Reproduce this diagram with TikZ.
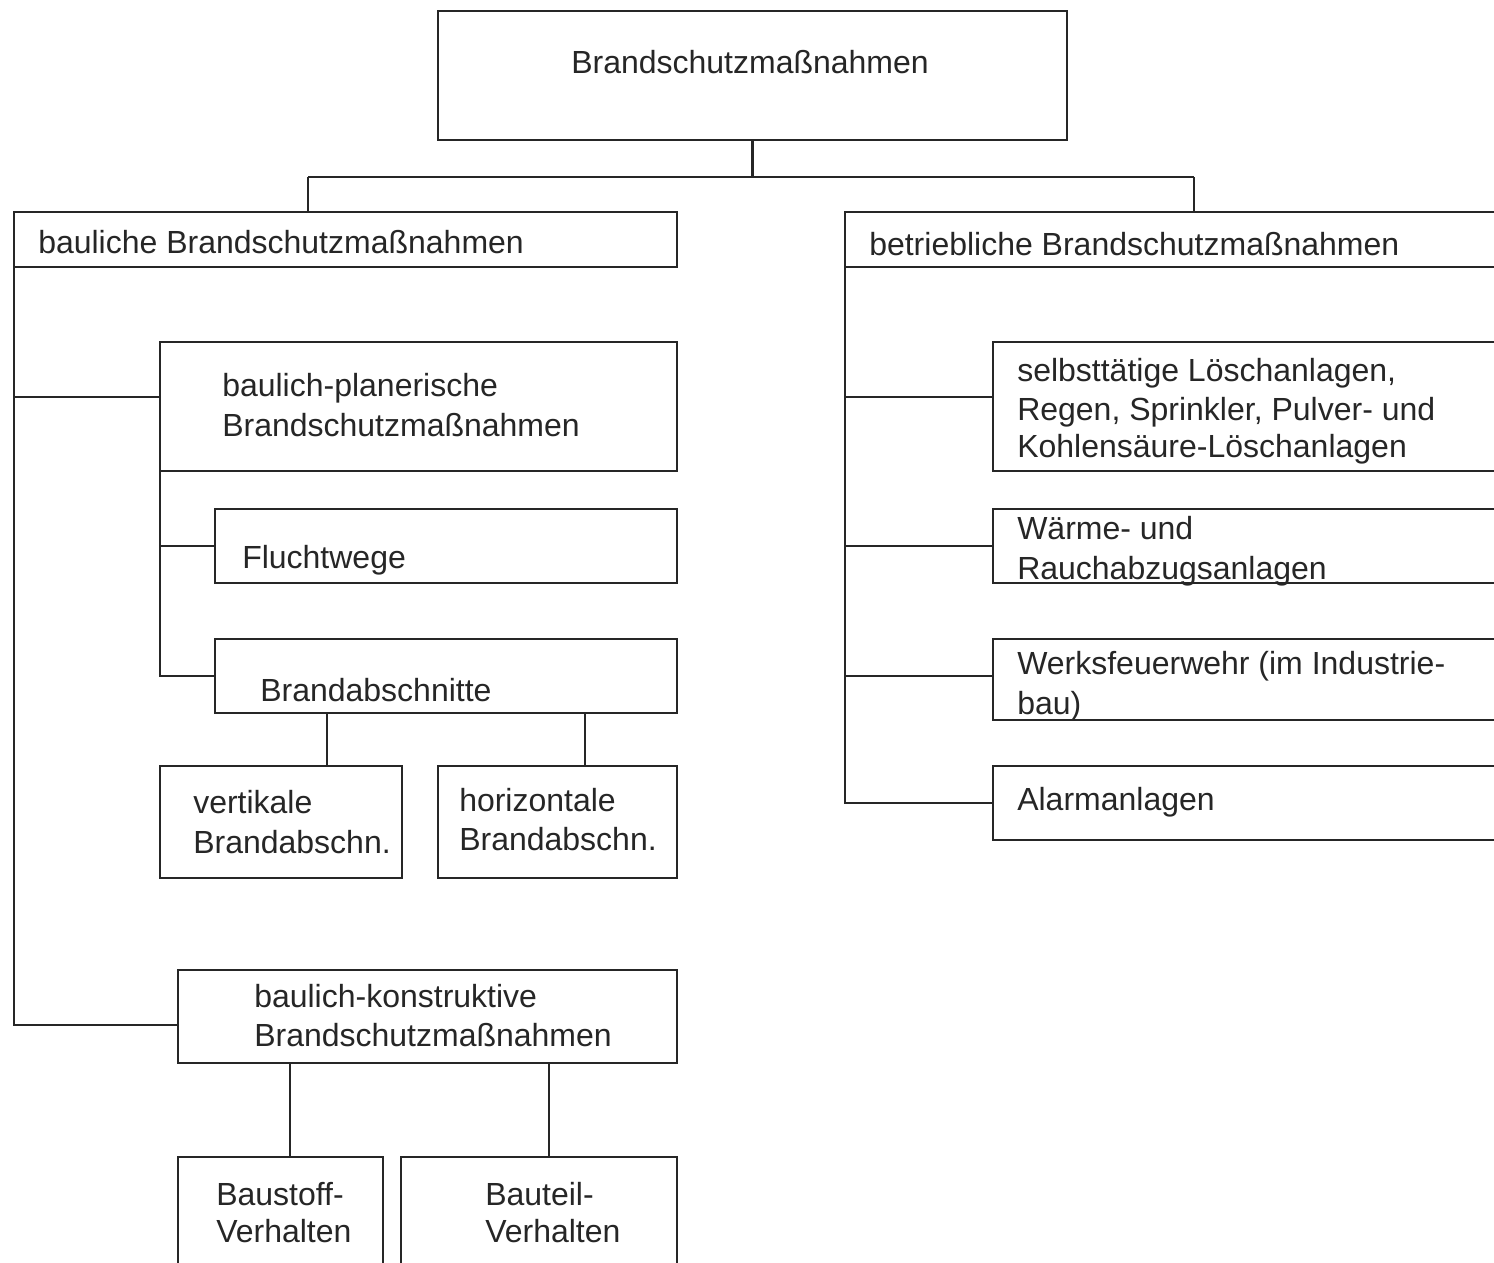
\documentclass[tikz,border=0pt]{standalone}
\usepackage{fontspec}
\setmainfont{Liberation Sans}
\usetikzlibrary{calc}
\begin{document}
\begin{tikzpicture}[x=1pt,y=-1pt,line width=2.5pt,
  box/.style={draw=black!85,rectangle,inner sep=0pt,outer sep=0pt,anchor=north west},
  lbl/.style={anchor=base west,inner sep=0pt,font=\fontsize{32}{40}\selectfont,text=black!85},
  link/.style={draw=black!85}]
\clip (0,0) rectangle (1494,1262);
% boxes
\node[box,minimum width=629pt,minimum height=129pt] (top) at (438,11) {};
\node[box,minimum width=663pt,minimum height=55pt] (bau) at (14,212) {};
\node[box,minimum width=680pt,minimum height=55pt] (betr) at (845,212) {};
\node[box,minimum width=517pt,minimum height=129pt] (bp) at (160,342) {};
\node[box,minimum width=462pt,minimum height=74pt] (flucht) at (215,509) {};
\node[box,minimum width=462pt,minimum height=74pt] (ba) at (215,639) {};
\node[box,minimum width=242pt,minimum height=112pt] (vk) at (160,766) {};
\node[box,minimum width=239pt,minimum height=112pt] (hz) at (438,766) {};
\node[box,minimum width=499pt,minimum height=93pt] (bk) at (178,970) {};
\node[box,minimum width=205pt,minimum height=140pt] (bs) at (178,1157) {};
\node[box,minimum width=276pt,minimum height=140pt] (bt) at (401,1157) {};
\node[box,minimum width=530pt,minimum height=129pt] (sl) at (993,342) {};
\node[box,minimum width=530pt,minimum height=74pt] (wr) at (993,509) {};
\node[box,minimum width=530pt,minimum height=81pt] (wf) at (993,639) {};
\node[box,minimum width=530pt,minimum height=74pt] (al) at (993,766) {};
% texts
\node[lbl] (t1) at (570,73) {Brandschutzmaßnahmen};
\node[lbl] (t2) at (37,253) {bauliche Brandschutzmaßnahmen};
\node[lbl] (t3) at (868,255) {betriebliche Brandschutzmaßnahmen};
\node[lbl] (t4) at (221,396) {baulich-planerische};
\node[lbl] (t5) at (221,436) {Brandschutzmaßnahmen};
\node[lbl] (t6) at (241,568) {Fluchtwege};
\node[lbl] (t7) at (259,701) {Brandabschnitte};
\node[lbl] (t8) at (192,813) {vertikale};
\node[lbl] (t9) at (192,853) {Brandabschn.};
\node[lbl] (t10) at (458,811) {horizontale};
\node[lbl] (t11) at (458,850) {Brandabschn.};
\node[lbl] (t12) at (253,1007) {baulich-konstruktive};
\node[lbl] (t13) at (253,1046) {Brandschutzmaßnahmen};
\node[lbl] (t14) at (215,1205) {Baustoff-};
\node[lbl] (t15) at (215,1242) {Verhalten};
\node[lbl] (t16) at (484,1205) {Bauteil-};
\node[lbl] (t17) at (484,1242) {Verhalten};
\node[lbl] (t18) at (1016,381) {selbsttätige Löschanlagen,};
\node[lbl] (t19) at (1016,420) {Regen, Sprinkler, Pulver- und};
\node[lbl] (t20) at (1016,457) {Kohlensäure-Löschanlagen};
\node[lbl] (t21) at (1016,539) {Wärme- und};
\node[lbl] (t22) at (1016,579) {Rauchabzugsanlagen};
\node[lbl] (t23) at (1016,674) {Werksfeuerwehr (im Industrie-};
\node[lbl] (t24) at (1016,714) {bau)};
\node[lbl] (t25) at (1016,810) {Alarmanlagen};
% connectors
\coordinate (jl) at (308,177);
\coordinate (jr) at (1194,177);
\draw[link] (top.south) -- (top.south |- jl);
\draw[link] (jl) -- (jr);
\draw[link] (jl) -- (jl |- bau.north);
\draw[link] (jr) -- (jr |- betr.north);
% left spine
\coordinate (lb1) at ($(bp.north west)+(0,55)$);
\coordinate (lb2) at ($(bk.north west)+(0,55)$);
\draw[link] (bau.south west) |- (lb2);
\draw[link] (bau.south west |- lb1) -- (lb1);
% inner spine
\coordinate (ib1) at ($(flucht.north west)+(0,37)$);
\coordinate (ib2) at ($(ba.north west)+(0,37)$);
\draw[link] (bp.south west) |- (ib2);
\draw[link] (bp.south west |- ib1) -- (ib1);
% Brandabschnitte children
\coordinate (v1) at ($(ba.south west)+(112,0)$);
\coordinate (v2) at ($(ba.south west)+(370,0)$);
\draw[link] (v1) -- (v1 |- vk.north);
\draw[link] (v2) -- (v2 |- hz.north);
% konstruktive children
\coordinate (k1) at ($(bk.south west)+(112,0)$);
\coordinate (k2) at ($(bk.south west)+(371,0)$);
\draw[link] (k1) -- (k1 |- bs.north);
\draw[link] (k2) -- (k2 |- bt.north);
% right spine
\coordinate (rb1) at ($(sl.north west)+(0,55)$);
\coordinate (rb2) at ($(wr.north west)+(0,37)$);
\coordinate (rb3) at ($(wf.north west)+(0,37)$);
\coordinate (rb4) at ($(al.north west)+(0,37)$);
\draw[link] (betr.south west) |- (rb4);
\draw[link] (betr.south west |- rb1) -- (rb1);
\draw[link] (betr.south west |- rb2) -- (rb2);
\draw[link] (betr.south west |- rb3) -- (rb3);
\end{tikzpicture}
\end{document}
